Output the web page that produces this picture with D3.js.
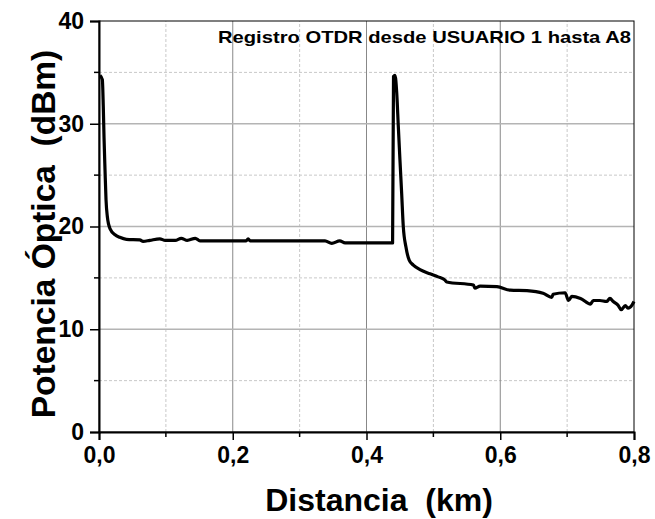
<!DOCTYPE html>
<html>
<head>
<meta charset="utf-8">
<script src="https://cdn.jsdelivr.net/npm/d3@7"></script>
<style>
  body { margin: 0; background: #fff; }
  text { font-family: "Liberation Sans", Arial, sans-serif; font-weight: bold; white-space: pre; }
</style>
</head>
<body>
<div id="chart"></div>
<script>
// OTDR trace, distance (km) vs optical power (dBm)
const distKm = [
  0.0015, 0.005, 0.0064, 0.0075, 0.009, 0.0105, 0.0124, 0.0164, 0.024, 0.031, 0.041, 0.061, 0.066,
  0.076, 0.091, 0.099, 0.114, 0.123, 0.132, 0.144, 0.151, 0.220, 0.223, 0.226, 0.338, 0.348, 0.360,
  0.368, 0.435, 0.439, 0.4404, 0.4426, 0.4452, 0.4476, 0.450, 0.4526, 0.455, 0.459, 0.464, 0.470,
  0.480, 0.495, 0.507, 0.517, 0.520, 0.560, 0.562, 0.570, 0.595, 0.615, 0.640, 0.664, 0.677, 0.679,
  0.697, 0.702, 0.707, 0.720, 0.735, 0.739, 0.749, 0.759, 0.764, 0.769, 0.776, 0.781, 0.787, 0.791,
  0.797, 0.800
];
const powerDbm = [
  34.7, 34.3, 31.7, 28.7, 25.5, 22.6, 21.0, 19.8, 19.2, 18.95, 18.75, 18.7, 18.55,
  18.65, 18.8, 18.65, 18.65, 18.85, 18.65, 18.85, 18.6, 18.6, 18.8, 18.6, 18.6, 18.35, 18.6,
  18.4, 18.4, 18.4, 34.6, 34.7, 33.0, 29.7, 26.5, 23.2, 20.0, 18.0, 16.7, 16.25,
  15.8, 15.4, 15.1, 14.8, 14.6, 14.3, 14.0, 14.2, 14.15, 13.8, 13.75, 13.5, 13.1, 13.4,
  13.55, 12.8, 13.2, 13.0, 12.45, 12.8, 12.8, 12.7, 13.0, 12.7, 12.35, 11.9, 12.3, 12.05,
  12.35, 12.7
];
const xMajor = [0, 0.2, 0.4, 0.6, 0.8];
const xMinor = [0.1, 0.3, 0.5, 0.7];
const yMajor = [0, 10, 20, 30, 40];
const yMinor = [5, 15, 25, 35];
const titleText = "Registro OTDR desde USUARIO 1 hasta A8";

const W = 655, H = 519;
const m = { left: 99, right: 21, top: 21, bottom: 87 };

const svg = d3.select("#chart").append("svg")
  .attr("width", W).attr("height", H);

const x = d3.scaleLinear().domain([0, 0.8]).range([m.left, W - m.right]);
const y = d3.scaleLinear().domain([0, 40]).range([H - m.bottom, m.top]);

// grid
const grid = svg.append("g");
grid.selectAll(".vmin").data(xMinor).enter().append("line")
  .attr("x1", d => x(d)).attr("x2", d => x(d))
  .attr("y1", y(0)).attr("y2", y(40))
  .attr("stroke", "#c8c8c8").attr("stroke-dasharray", "3,2").attr("stroke-width", 1);
grid.selectAll(".hmin").data(yMinor).enter().append("line")
  .attr("x1", x(0)).attr("x2", x(0.8))
  .attr("y1", d => y(d)).attr("y2", d => y(d))
  .attr("stroke", "#c8c8c8").attr("stroke-dasharray", "3,2").attr("stroke-width", 1);
grid.selectAll(".vmaj").data(xMajor.slice(1, -1)).enter().append("line")
  .attr("x1", d => x(d)).attr("x2", d => x(d))
  .attr("y1", y(0)).attr("y2", y(40))
  .attr("stroke", "#888").attr("stroke-width", 1);
grid.selectAll(".hmaj").data(yMajor.slice(1, -1)).enter().append("line")
  .attr("x1", x(0)).attr("x2", x(0.8))
  .attr("y1", d => y(d)).attr("y2", d => y(d))
  .attr("stroke", "#b4b4b4").attr("stroke-width", 1.5);

// frame
svg.append("rect")
  .attr("x", x(0)).attr("y", y(40))
  .attr("width", x(0.8) - x(0)).attr("height", y(0) - y(40))
  .attr("fill", "none").attr("stroke", "#000").attr("stroke-width", 1);

// axes
const xAxis = svg.append("g").attr("transform", `translate(0,${y(0)})`)
  .call(d3.axisBottom(x).tickValues(xMajor).tickSize(8).tickPadding(7)
    .tickFormat(d => d3.format(".1f")(d).replace(".", ",")));
xAxis.append("g").selectAll("line").data(xMinor).enter().append("line")
  .attr("x1", d => x(d)).attr("x2", d => x(d)).attr("y1", 0).attr("y2", 5)
  .attr("stroke", "#000").attr("stroke-width", 1.5);

const yAxis = svg.append("g").attr("transform", `translate(${x(0)},0)`)
  .call(d3.axisLeft(y).tickValues(yMajor).tickSize(9).tickPadding(6));
yAxis.append("g").selectAll("line").data(yMinor).enter().append("line")
  .attr("x1", 0).attr("x2", -5).attr("y1", d => y(d)).attr("y2", d => y(d))
  .attr("stroke", "#000").attr("stroke-width", 1.5);

[xAxis, yAxis].forEach(a => {
  a.select(".domain").attr("stroke-width", 2);
  a.selectAll(".tick line").attr("stroke-width", 1.5);
  a.selectAll(".tick text").style("font-size", "23px").attr("fill", "#000");
});

// trace
const pts = distKm.map((d, i) => [d, powerDbm[i]]);
svg.append("path")
  .datum(pts)
  .attr("fill", "none").attr("stroke", "#000").attr("stroke-width", 3.2)
  .attr("stroke-linejoin", "round")
  .attr("d", d3.line().curve(d3.curveMonotoneX).x(d => x(d[0])).y(d => y(d[1])));

// texts
svg.append("text")
  .attr("x", x(0.8) - 3).attr("y", 43)
  .attr("text-anchor", "end").style("font-size", "17px")
  .attr("textLength", 413).attr("lengthAdjust", "spacingAndGlyphs")
  .text(titleText);

svg.append("text")
  .attr("x", 379).attr("y", 511)
  .attr("text-anchor", "middle").style("font-size", "32px")
  .text("Distancia  (km)");

svg.append("text")
  .attr("transform", "translate(55,234) rotate(-90)")
  .attr("text-anchor", "middle").style("font-size", "33.5px")
  .text("Potencia Óptica  (dBm)");
</script>
</body>
</html>
